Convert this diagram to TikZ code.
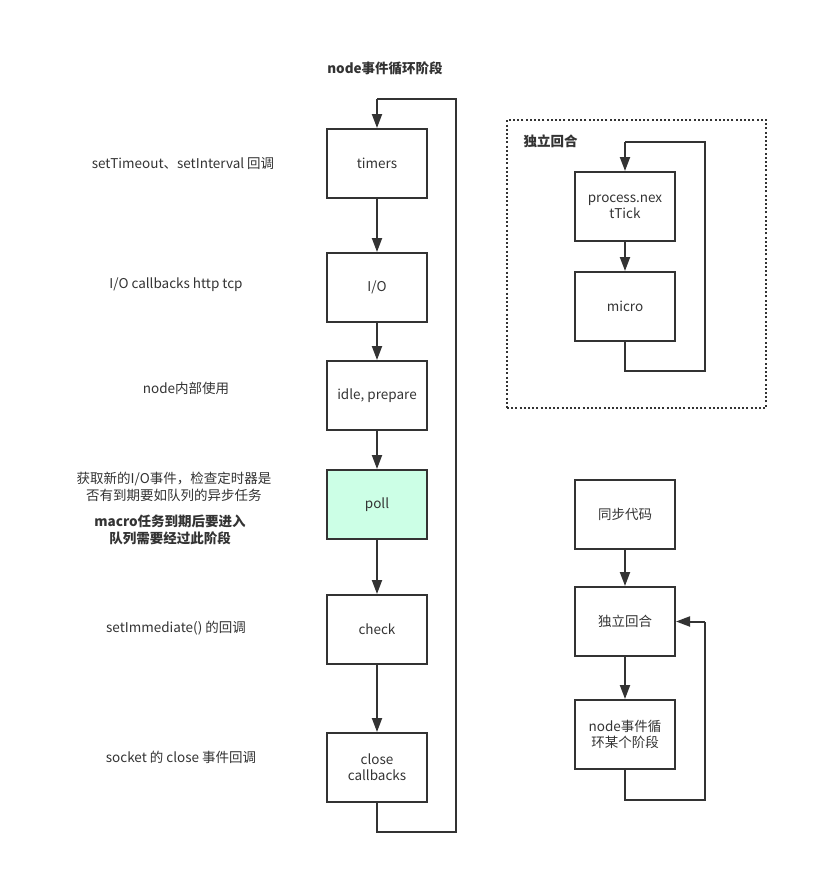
\documentclass[tikz,border=0pt]{standalone}
\usepackage{fontspec}
\setmainfont{Noto Sans CJK SC}
\usetikzlibrary{arrows.meta}
\definecolor{ink}{HTML}{333333}
\definecolor{mint}{HTML}{CCFFE6}
\tikzset{
  stage/.style={draw=ink, line width=2pt, minimum width=100pt, minimum height=69pt,
    inner sep=2pt, align=center, font=\fontsize{13.5}{16}\selectfont, text=ink},
  note/.style={align=center, font=\fontsize{13.5}{17}\selectfont, text=ink},
  heading/.style={align=center, font=\bfseries\fontsize{13.5}{17}\selectfont, text=ink},
  link/.style={draw=ink, line width=2pt, -{Triangle[length=14pt,width=10pt]}},
  wire/.style={draw=ink, line width=2pt},
}
\begin{document}
\begin{tikzpicture}[x=1pt, y=-1pt]
\useasboundingbox (0,0) rectangle (828,895);

% event loop phases
\node[heading] (title) at (385,68) {node事件循环阶段};
\node[stage] (timers) at (377,163.5) {timers};
\node[stage] (io) at (377,287.5) {I/O};
\node[stage] (idle) at (377,395.5) {idle, prepare};
\node[stage, fill=mint] (poll) at (377,504.5) {poll};
\node[stage] (check) at (377,629.5) {check};
\node[stage] (close) at (377,767.5) {close\\callbacks};

\draw[link] (timers) -- (io);
\draw[link] (io) -- (idle);
\draw[link] (idle) -- (poll);
\draw[link] (poll) -- (check);
\draw[link] (check) -- (close);

\coordinate (lpA) at (377,832);
\coordinate (lpB) at (456,832);
\coordinate (lpC) at (456,99);
\coordinate (lpD) at (377,99);
\draw[wire] (close.south) -- (lpA) -- (lpB) -- (lpC) -- (lpD);
\draw[link] (lpD) -- (timers.north);

% phase descriptions
\node[note] (dTimers) at (183,164) {setTimeout、setInterval 回调};
\node[note] (dIo) at (176,285) {I/O callbacks http tcp};
\node[note] (dIdle) at (186,388) {node内部使用};
\node[note] (dPoll) at (174,487) {获取新的I/O事件，检查定时器是\\否有到期要如队列的异步任务};
\node[heading] (dMacro) at (170,530) {macro任务到期后要进入\\队列需要经过此阶段};
\node[note] (dCheck) at (176,628) {setImmediate() 的回调};
\node[note] (dClose) at (181,757) {socket 的 close 事件回调};

% microtask round
\node[draw=ink, line width=2pt, dash pattern=on 2pt off 2.2pt, minimum width=259pt, minimum height=288pt, inner sep=0pt] (frame) at (636.5,264) {};
\node[heading, anchor=west] (frameTitle) at (520,141) {独立回合};
\node[stage] (tick) at (625,206.5) {process.nex\\tTick};
\node[stage] (micro) at (625,306.5) {micro};
\draw[link] (tick) -- (micro);
\coordinate (mA) at (625,371);
\coordinate (mB) at (705,371);
\coordinate (mC) at (705,142);
\coordinate (mD) at (625,142);
\draw[wire] (micro.south) -- (mA) -- (mB) -- (mC) -- (mD);
\draw[link] (mD) -- (tick.north);

% overall order
\node[stage] (sync) at (625,514.5) {同步代码};
\node[stage] (round) at (625,621.5) {独立回合};
\node[stage] (phase) at (625,734.5) {node事件循\\环某个阶段};
\draw[link] (sync) -- (round);
\draw[link] (round) -- (phase);
\coordinate (rA) at (625,800);
\coordinate (rB) at (705,800);
\coordinate (rC) at (705,621.5);
\draw[wire] (phase.south) -- (rA) -- (rB) -- (rC);
\draw[link] (rC) -- (round.east);
\end{tikzpicture}
\end{document}
